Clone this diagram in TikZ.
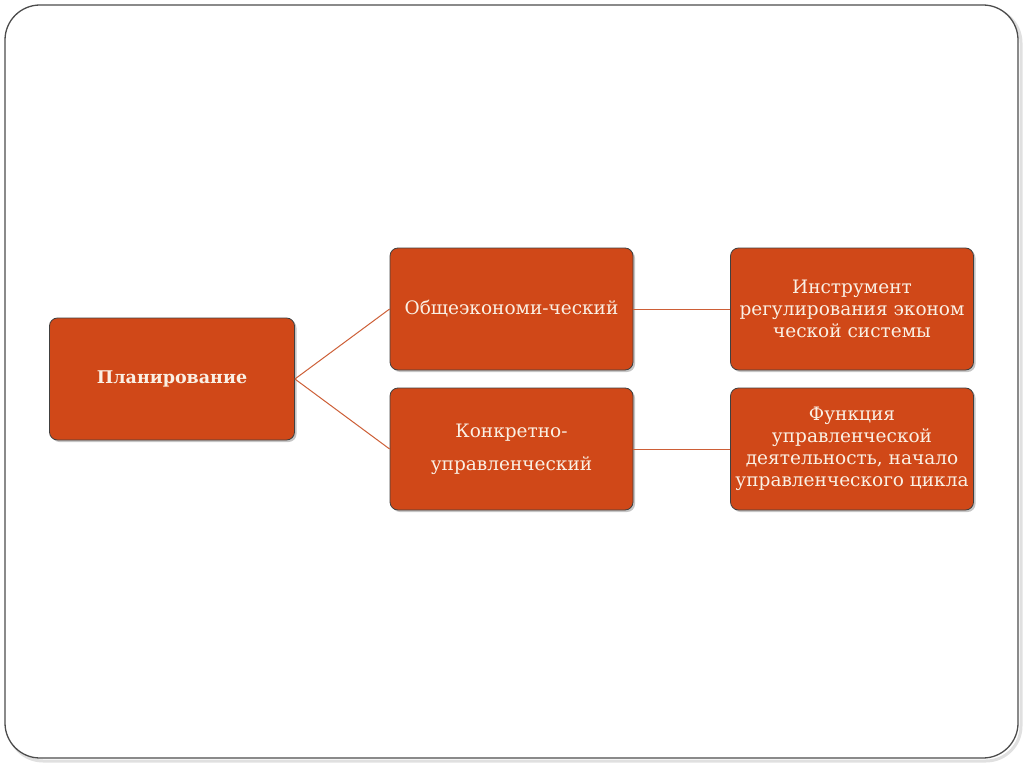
\documentclass[tikz,border=0pt]{standalone}
\usepackage{fontspec}
\setmainfont{DejaVu Serif}
\usetikzlibrary{shadows}

\definecolor{boxfill}{RGB}{208,72,24}
\definecolor{linkcol}{RGB}{205,95,55}
\definecolor{txtcol}{RGB}{250,240,228}

\begin{document}
\begin{tikzpicture}[
    x=1pt, y=-1pt,
    box/.style={rectangle, rounded corners=8pt, draw=black!75, line width=0.8pt,
      fill=boxfill, text=txtcol, align=center, font=\fontsize{18.5}{22}\selectfont,
      minimum width=243pt, minimum height=122pt, inner sep=1pt,
      drop shadow={shadow xshift=2pt, shadow yshift=-2pt, opacity=0.45}},
    link/.style={draw=linkcol, line width=1pt}
  ]
  \useasboundingbox (0,0) rectangle (1024,767);

  % рамка слайда
  \draw[black!12, line width=3pt, rounded corners=35pt] (8,8) rectangle (1021,761);
  \draw[black!70, line width=1.3pt, fill=white, rounded corners=35pt] (5,5) rectangle (1018,758);

  % блоки
  \node[box, minimum width=245pt, font=\bfseries\fontsize{17.5}{22}\selectfont] (plan) at (172,379) {Планирование};
  \node[box] (obsh) at (511.5,309) {Общеэкономи-ческий};
  \node[box, font=\fontsize{18.5}{33}\selectfont] (konk) at (511.5,449) {Конкретно-\\управленческий};
  \node[box] (instr) at (852,309) {Инструмент\\регулирования эконом\\ческой системы};
  \node[box] (func) at (852,449) {Функция\\управленческой\\деятельность, начало\\управленческого цикла};

  % связи
  \draw[link] (plan.east) -- (obsh.west);
  \draw[link] (plan.east) -- (konk.west);
  \draw[link] (obsh.east) -- (instr.west);
  \draw[link] (konk.east) -- (func.west);

\end{tikzpicture}
\end{document}
